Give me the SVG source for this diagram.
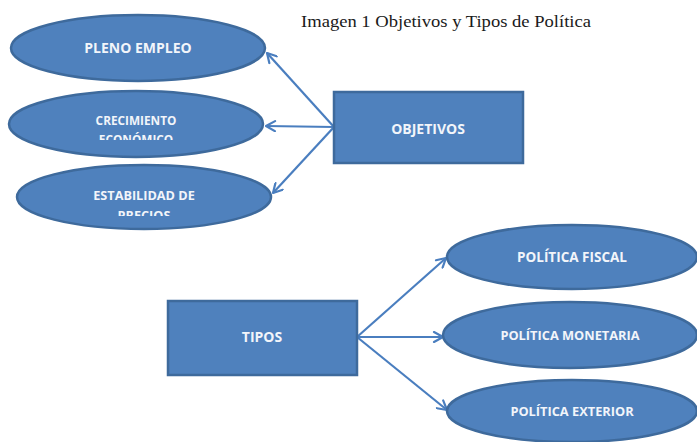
<svg xmlns="http://www.w3.org/2000/svg" width="697" height="442" viewBox="0 0 697 442">
<style>
.n{fill:#4F81BD;stroke:#3E6A9C;stroke-width:2.5}
.t{fill:#F2F5FA;font-family:"Open Sans","Liberation Sans",sans-serif;font-weight:bold;text-anchor:middle}
.c{stroke:#4A7EBF;stroke-width:2.2;fill:none}
.h{stroke:#4A7EBF;stroke-width:2.2;fill:none;stroke-linecap:round;stroke-linejoin:round}
</style>
<defs>
<marker id="a" viewBox="0 0 12 12" refX="11" refY="6" markerWidth="12" markerHeight="12" markerUnits="userSpaceOnUse" orient="auto">
<path class="h" d="M2,1 L11,6 L2,11"/>
</marker>
<clipPath id="k2"><rect x="0" y="0" width="697" height="140"/></clipPath>
<clipPath id="k3"><rect x="0" y="0" width="697" height="216"/></clipPath>
</defs>
<rect width="697" height="442" fill="#fff"/>
<text x="301" y="27" font-family="Liberation Serif,serif" font-size="17.5" fill="#1a1a1a" textLength="290" lengthAdjust="spacingAndGlyphs">Imagen 1 Objetivos y Tipos de Política</text>
<g id="connectors">
<line class="c" x1="334" y1="127" x2="267" y2="53" marker-end="url(#a)"/>
<line class="c" x1="334" y1="127" x2="266" y2="126" marker-end="url(#a)"/>
<line class="c" x1="334" y1="127" x2="273" y2="193" marker-end="url(#a)"/>
<line class="c" x1="357" y1="337" x2="446" y2="258" marker-end="url(#a)"/>
<line class="c" x1="357" y1="337" x2="443" y2="337" marker-end="url(#a)"/>
<line class="c" x1="357" y1="337" x2="447" y2="410" marker-end="url(#a)"/>
</g>
<g id="pleno">
<ellipse class="n" cx="138" cy="48" rx="127" ry="33"/>
<text class="t" x="138" y="53" font-size="14">PLENO EMPLEO</text>
</g>
<g id="crecimiento">
<ellipse class="n" cx="136" cy="124" rx="127" ry="33"/>
<g clip-path="url(#k2)">
<text class="t" x="136" y="125" font-size="11.8">CRECIMIENTO</text>
<text class="t" x="136" y="144" font-size="11.8">ECONÓMICO</text>
</g>
</g>
<g id="estabilidad">
<ellipse class="n" cx="144" cy="197" rx="127" ry="32"/>
<g clip-path="url(#k3)">
<text class="t" x="144" y="200" font-size="12.7">ESTABILIDAD DE</text>
<text class="t" x="144" y="220" font-size="12.7">PRECIOS</text>
</g>
</g>
<g id="objetivos">
<rect class="n" x="334" y="92" width="189" height="71"/>
<text class="t" x="428" y="134" font-size="14">OBJETIVOS</text>
</g>
<g id="tipos">
<rect class="n" x="168" y="301" width="189" height="74"/>
<text class="t" x="262" y="342" font-size="14">TIPOS</text>
</g>
<g id="fiscal">
<ellipse class="n" cx="572" cy="257" rx="125" ry="32"/>
<text class="t" x="572" y="262" font-size="13.5">POLÍTICA  FISCAL</text>
</g>
<g id="monetaria">
<ellipse class="n" cx="570" cy="335" rx="127" ry="33"/>
<text class="t" x="570" y="340" font-size="12.8">POLÍTICA MONETARIA</text>
</g>
<g id="exterior">
<ellipse class="n" cx="572" cy="411" rx="125" ry="31"/>
<text class="t" x="572" y="416" font-size="12.8">POLÍTICA EXTERIOR</text>
</g>
</svg>
